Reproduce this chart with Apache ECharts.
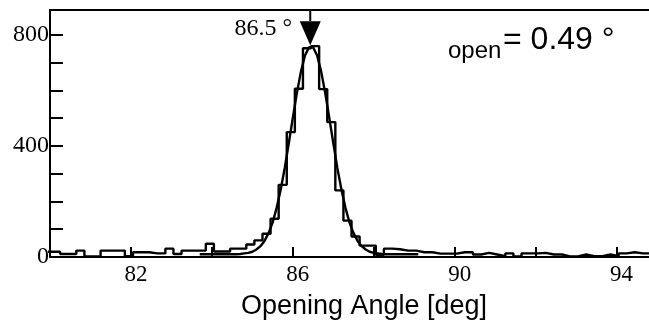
<!DOCTYPE html>
<html><head><meta charset="utf-8">
<script src="https://cdn.jsdelivr.net/npm/echarts@6/dist/echarts.min.js"></script>
<style>html,body{margin:0;padding:0;background:#fff}#c{width:649px;height:325px}</style>
</head><body><div id="c"></div>
<script>
// Histogram: bins of fixed width starting at binStart
const binStart = 79.85;
const binWidth = 0.2;
const counts = [19,19,11,11,23,2,2,23,23,23,
  3,17,17,13,13,30,11,23,23,23,
  48,20,20,30,30,45,60,84,138,260,
  450,606,752,760,605,486,240,131,74,41,
  41,8,30,28,23,23,17,17,12,12,
  12,17,17,9,15,9,3,13,2,13,
  13,15,9,9,2,2,9,3,3,9,
  3,13,17,13,13];
// Fit curve
const fitX = [83.7,83.8,83.9,84.0,84.1,84.2,84.3,84.4,84.5,84.6,
  84.7,84.8,84.9,85.0,85.1,85.2,85.3,85.4,85.5,85.6,85.7,85.8,85.9,86.0,86.1,86.2,86.3,86.4,
  86.5,86.6,86.7,86.8,86.9,87.0,87.1,87.2,87.3,87.4,87.5,87.6,87.7,87.8,87.9,88.0,88.1,88.2,
  88.3,88.4,88.5,88.6,88.7,88.8,88.9,89.0,89.1];
const fitY = [10,10,10,10,10,10,10,10,10,10,
  11,13,15,19,27,39,58,86,124,177,243,321,410,502,591,668,726,756,
  756,726,668,591,502,410,321,243,177,124,86,58,39,27,19,15,13,11,
  10,10,10,10,10,10,10,10,10];
const xTickLabels = [82,86,90,94];
const yTickLabels = [0,400,800];
const xRange = [80, 94.8];
const yRange = [0, 890];
const peakX = 86.43;
const arrowBase = 850;
const arrowTip = 763;
const peakLabel = '86.5 °';
const sigmaSub = 'open';
const sigmaLabel = '= 0.49 °';
const xTitle = 'Opening Angle [deg]';

const histPts = [];
counts.forEach((v, k) => {
  const a = binStart + k * binWidth, b = a + binWidth;
  histPts.push([a, v], [b, v]);
});
const fitPts = fitX.map((x, i) => [x, fitY[i]]);

const chart = echarts.init(document.getElementById('c'), null, {renderer: 'canvas'});
const serif = 'Liberation Serif';
chart.setOption({
  animation: false,
  backgroundColor: '#fff',
  grid: {left: 50, right: 0, top: 10, bottom: 68, containLabel: false},
  xAxis: [{
    type: 'value', min: xRange[0], max: xRange[1], interval: 2,
    axisLine: {show: true, onZero: false, lineStyle: {color: '#000', width: 2}},
    axisTick: {show: true, inside: true, length: 10, lineStyle: {color: '#000', width: 2}},
    splitLine: {show: false},
    axisLabel: {
      show: true, margin: 6, color: '#000', fontFamily: serif, fontSize: 23,
      padding: [0, 0, 0, 10], showMaxLabel: false,
      formatter: v => xTickLabels.includes(Math.round(v * 100) / 100) ? String(v) : ''
    }
  }, {
    type: 'value', position: 'top', min: xRange[0], max: xRange[1],
    axisLine: {show: true, onZero: false, lineStyle: {color: '#000', width: 2}},
    axisTick: {show: false}, axisLabel: {show: false}, splitLine: {show: false}
  }],
  yAxis: {
    type: 'value', min: yRange[0], max: yRange[1], interval: 100,
    axisLine: {show: true, onZero: false, lineStyle: {color: '#000', width: 2}},
    axisTick: {show: true, inside: true, length: 13, lineStyle: {color: '#000', width: 2}},
    splitLine: {show: false},
    axisLabel: {
      show: true, margin: 1, color: '#000', fontFamily: serif, fontSize: 24,
      padding: [6, 0, 0, 0], showMaxLabel: false,
      formatter: v => yTickLabels.includes(v) ? String(v) : ''
    }
  },
  series: [
    {type: 'line', data: histPts, showSymbol: false, symbol: 'none',
     lineStyle: {color: '#000', width: 2.4}, clip: true, z: 2},
    {type: 'line', data: fitPts, showSymbol: false, symbol: 'none', smooth: false,
     lineStyle: {color: '#000', width: 2.4}, clip: true, z: 3},
    {type: 'line', data: [[peakX, yRange[1]], [peakX, arrowBase]], showSymbol: false, symbol: 'none',
     lineStyle: {color: '#000', width: 2}, z: 4},
    {type: 'scatter', data: [[peakX, (arrowBase + arrowTip) / 2]],
     symbol: 'path://M0 0L20 0L10 24Z', symbolSize: [21, 24], symbolKeepAspect: false,
     itemStyle: {color: '#000', opacity: 1}, z: 5}
  ],
  graphic: [
    {type: 'text', x: 292, y: 29, style: {text: peakLabel, font: '24px "Liberation Serif"', fill: '#000',
      align: 'right', textAlign: 'right', verticalAlign: 'middle', textVerticalAlign: 'middle'}},
    {type: 'text', x: 448, y: 51.5, style: {text: sigmaSub, font: '24px "Liberation Sans"', fill: '#000',
      align: 'left', textAlign: 'left', verticalAlign: 'middle', textVerticalAlign: 'middle'}},
    {type: 'text', x: 503, y: 40, style: {text: sigmaLabel, font: '32px "Liberation Sans"', fill: '#000',
      align: 'left', textAlign: 'left', verticalAlign: 'middle', textVerticalAlign: 'middle'}},
    {type: 'text', x: 364, y: 307, style: {text: xTitle, font: '27px "Liberation Sans"', fill: '#000',
      align: 'center', textAlign: 'center', verticalAlign: 'middle', textVerticalAlign: 'middle'}}
  ]
});
</script></body></html>
